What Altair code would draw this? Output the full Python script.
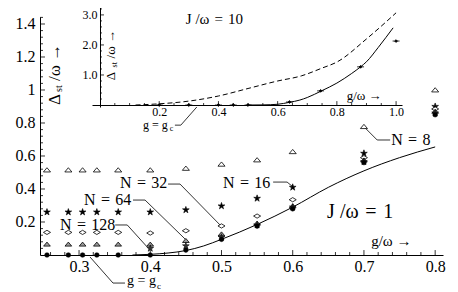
import altair as alt
import pandas as pd

FONT = "Liberation Serif"
SP = "\u2004"  # slightly wider space, as in the typeset labels

# ---------------- main panel (J/omega = 1) ----------------
G = [0.255, 0.285, 0.305, 0.325, 0.355, 0.40, 0.45, 0.50, 0.55, 0.60, 0.70, 0.80]
N8 = [0.515, 0.515, 0.515, 0.515, 0.515, 0.515, 0.525, 0.55, 0.576, 0.626, 0.778, 1.0]
N16 = [0.26, 0.26, 0.26, 0.26, 0.26, 0.26, 0.273, 0.297, 0.343, 0.41, 0.616, 0.90]
N32 = [0.137, 0.137, 0.137, 0.137, 0.137, 0.133, 0.147, 0.176, 0.236, 0.335, 0.59, 0.885]
N64 = [0.065, 0.065, 0.065, 0.065, 0.065, 0.065, 0.087, 0.127, 0.192, 0.297, 0.575, 0.87]
G128 = [0.40, 0.45, 0.50, 0.55, 0.60, 0.70, 0.80]
N128 = [0.04, 0.055, 0.107, 0.182, 0.29, 0.565, 0.86]
NLARGE = [0, 0, 0, 0, 0, 0, 0.03, 0.095, 0.175, 0.28, 0.56, 0.85]

CURVE_G = [0.375, 0.40, 0.425, 0.45, 0.475, 0.50, 0.55, 0.60, 0.65, 0.70, 0.75, 0.80]
CURVE_V = [0.0, 0.004, 0.012, 0.027, 0.055, 0.095, 0.185, 0.29, 0.41, 0.51, 0.59, 0.655]

MAIN_X_TICKS = [0.3, 0.4, 0.5, 0.6, 0.7, 0.8]
MAIN_Y_TICKS = [0.2, 0.4, 0.6, 0.8, 1.0, 1.2, 1.4]

# ---------------- inset (J/omega = 10) ----------------
IN_SOLID_G = [0.50, 0.55, 0.60, 0.64, 0.675, 0.70, 0.75, 0.80, 0.85, 0.88, 0.90, 0.94, 0.99]
IN_SOLID_V = [0.0, 0.004, 0.025, 0.09, 0.165, 0.25, 0.48, 0.73, 1.05, 1.27, 1.44, 1.92, 2.57]
IN_DASH_G = [0.12, 0.20, 0.30, 0.40, 0.50, 0.60, 0.68, 0.75, 0.80, 0.90, 1.0]
IN_DASH_V = [0.0, 0.04, 0.13, 0.30, 0.55, 0.80, 0.97, 1.23, 1.43, 2.2, 3.07]
IN_PTS_G = [0.20, 0.30, 0.40, 0.45, 0.50, 0.64, 0.745, 0.88, 1.0]
IN_PTS_V = [0.0, 0.0, 0.0, 0.0, 0.0, 0.10, 0.47, 1.27, 2.13]

IN_X_TICKS = [0.2, 0.4, 0.6, 0.8, 1.0]
IN_Y_TICKS = [1.0, 2.0, 3.0]

# ---------------- annotations ----------------
MAIN_TEXT = ["J /\u03c9" + SP + "=" + SP + "1", "g/\u03c9 \u2192",
             "N" + SP + "=" + SP + "8", "N" + SP + "=" + SP + "16", "N" + SP + "=" + SP + "32",
             "N" + SP + "=" + SP + "64", "N" + SP + "=" + SP + "128", "g = g", "c"]
MAIN_TEXT_X = [0.6483, 0.7101, 0.7382, 0.5022, 0.3576, 0.3070, 0.2733, 0.3674, 0.4095]
MAIN_TEXT_Y = [0.224, 0.0545, 0.667, 0.406, 0.406, 0.303, 0.152, -0.182, -0.206]
MAIN_TEXT_S = [20, 15, 16, 16, 16, 16, 16, 14, 9]

MAIN_YT_TEXT = ["\u0394", "st", "/\u03c9 \u2192"]
MAIN_YT_X = [0.2726, 0.2754, 0.2726]
MAIN_YT_Y = [0.909, 0.988, 1.055]
MAIN_YT_S = [17, 10, 17]

IN_TEXT = ["J /\u03c9" + SP + "=" + SP + "10", "g/\u03c9 \u2192", "g = g", "c"]
IN_TEXT_X = [0.29, 0.833, 0.145, 0.236]
IN_TEXT_Y = [2.70, 0.165, -0.79, -0.86]
IN_TEXT_S = [15, 13, 12, 8]

IN_YT_TEXT = ["\u0394", "st", "/\u03c9 \u2192"]
IN_YT_X = [0.0506, 0.0573, 0.0506]
IN_YT_Y = [0.824, 1.253, 1.55]
IN_YT_S = [13, 8, 13]

LEADER_ID = ["n8"] * 3 + ["n16"] * 3 + ["n32"] * 3 + ["n64"] * 3 + ["n128"] * 3 + ["gc"] * 3
LEADER_X = [0.7017, 0.7186, 0.7368, 0.5725, 0.5921, 0.6006, 0.4250, 0.4418, 0.4980,
            0.3758, 0.3927, 0.4517, 0.3508, 0.3677, 0.3958, 0.3154, 0.3477, 0.3645]
LEADER_Y = [0.770, 0.697, 0.697, 0.442, 0.442, 0.412, 0.430, 0.430, 0.182,
            0.333, 0.333, 0.085, 0.182, 0.182, 0.048, -0.012, -0.170, -0.170]
IN_LEADER_X = [0.253, 0.273, 0.327]
IN_LEADER_Y = [-0.67, -0.67, -0.066]

# ---------------- scales / axes ----------------
MX_SCALE = alt.Scale(domain=[0.2452, 0.811], nice=False, zero=False)
MY_SCALE = alt.Scale(domain=[0, 1.4424], nice=False, zero=False)
IX_SCALE = alt.Scale(domain=[-0.027, 1.02], range=[52, 362], nice=False, zero=False)
IY_SCALE = alt.Scale(domain=[-0.066, 3.43], range=[90, -15], nice=False, zero=False)

AX_COMMON = dict(grid=False, ticks=False, tickSize=0, labelFont=FONT, labelColor="black",
                 domainColor="black", domainWidth=1, title=None, labelFlush=False,
                 labelOverlap=False, labelBound=False)

MX_AXIS = alt.Axis(orient="bottom", values=MAIN_X_TICKS, format=".1f", labelFontSize=16,
                   labelPadding=3, **AX_COMMON)
MY_AXIS = alt.Axis(orient="left", values=MAIN_Y_TICKS, labelFontSize=16, labelPadding=5,
                   labelExpr="datum.value == 1 ? '1' : format(datum.value, '.1f')", **AX_COMMON)
IX_AXIS = alt.Axis(orient="bottom", offset=-150, values=IN_X_TICKS, format=".1f",
                   labelFontSize=12, labelPadding=1, **AX_COMMON)
IY_AXIS = alt.Axis(orient="left", offset=-60, values=IN_Y_TICKS, format=".1f",
                   labelFontSize=12, labelPadding=3, **AX_COMMON)


def MX(f="x"):
    return alt.X(f"{f}:Q", scale=MX_SCALE, axis=MX_AXIS)


def MY(f="y"):
    return alt.Y(f"{f}:Q", scale=MY_SCALE, axis=MY_AXIS)


def IX(f="x"):
    return alt.X(f"{f}:Q", scale=IX_SCALE, axis=IX_AXIS)


def IY(f="y"):
    return alt.Y(f"{f}:Q", scale=IY_SCALE, axis=IY_AXIS)


TRI = "M-1,0.55L1,0.55L0,-0.65Z"
DIA = "M-1,0L0,-0.6L1,0L0,0.6Z"
STAR = ("M0,-1L0.2245,-0.309L0.951,-0.309L0.363,0.118L0.588,0.809L0,0.382"
        "L-0.588,0.809L-0.363,0.118L-0.951,-0.309L-0.2245,-0.309Z")
BARDOT = "M-1,0L1,0M-0.4,0L0,-0.4L0.4,0L0,0.4Z"


def points(xs, ys, shape, fill, size, sw, enc_x, enc_y):
    df = pd.DataFrame({"x": xs, "y": ys})
    return alt.Chart(df).mark_point(shape=shape, filled=True, fill=fill, stroke="black",
                                    strokeWidth=sw, size=size, opacity=1).encode(x=enc_x(), y=enc_y())


def texts(ts, xs, ys, ss, angle, enc_x, enc_y):
    df = pd.DataFrame({"t": ts, "x": xs, "y": ys, "s": ss})
    return alt.Chart(df).mark_text(font=FONT, align="left", baseline="alphabetic",
                                   color="black", angle=angle).encode(
        x=enc_x(), y=enc_y(), text="t:N", size=alt.Size("s:Q", scale=None, legend=None))


def tick_rules(rows, enc_x, enc_y):
    df = pd.DataFrame(rows, columns=["x", "x2", "y", "y2"])
    return alt.Chart(df).mark_rule(color="black", strokeWidth=0.8).encode(
        x=enc_x(), x2="x2:Q", y=enc_y(), y2="y2:Q")


# tick marks pointing inward (Mathematica style)
main_x_minor = [round(0.26 + 0.02 * i, 2) for i in range(28)]
main_x_rows = [(t, t, 0, 0.03 if t in MAIN_X_TICKS else 0.018) for t in main_x_minor]
main_y_vals = [round(0.04 * i, 2) for i in range(1, 37)]
main_y_rows = [(0.2452, 0.2452 + (0.007 if i % 5 == 0 else 0.0042), v, v)
               for i, v in zip(range(1, 37), main_y_vals)]
in_x_vals = [round(0.05 * i, 2) for i in range(1, 21)]
in_x_rows = [(t, t, 0, 0.13 if i % 4 == 0 else 0.066) for i, t in zip(range(1, 21), in_x_vals)]
in_y_vals = [round(0.2 * i, 1) for i in range(1, 17)]
in_y_rows = [(0, 0.0135 if i % 5 == 0 else 0.0067, v, v) for i, v in zip(range(1, 17), in_y_vals)]

# ---------------- main layers ----------------
main_curve = alt.Chart(pd.DataFrame({"x": CURVE_G, "y": CURVE_V})).mark_line(
    color="black", strokeWidth=1, interpolate="monotone").encode(x=MX(), y=MY())

leaders = alt.Chart(pd.DataFrame({"x": LEADER_X, "y": LEADER_Y, "id": LEADER_ID,
                                  "o": list(range(len(LEADER_X)))})).mark_line(
    color="black", strokeWidth=0.8).encode(x=MX(), y=MY(), detail="id:N", order="o:Q")

main = alt.layer(
    tick_rules(main_x_rows, MX, MY),
    tick_rules(main_y_rows, MX, MY),
    main_curve,
    leaders,
    points(G, N8, TRI, "white", 50, 0.8, MX, MY),
    points(G, N16, STAR, "black", 50, 0.6, MX, MY),
    points(G, N32, DIA, "white", 50, 0.8, MX, MY),
    points(G, N64, TRI, "#9a9a9a", 45, 0.8, MX, MY),
    points(G128, N128, STAR, "#333333", 50, 0.6, MX, MY),
    points(G, NLARGE, "circle", "black", 22, 0.5, MX, MY),
    texts(MAIN_TEXT, MAIN_TEXT_X, MAIN_TEXT_Y, MAIN_TEXT_S, 0, MX, MY),
    texts(MAIN_YT_TEXT, MAIN_YT_X, MAIN_YT_Y, MAIN_YT_S, 270, MX, MY),
)

# ---------------- inset layers ----------------
in_solid = alt.Chart(pd.DataFrame({"x": IN_SOLID_G, "y": IN_SOLID_V})).mark_line(
    color="black", strokeWidth=1, interpolate="monotone").encode(x=IX(), y=IY())
in_dash = alt.Chart(pd.DataFrame({"x": IN_DASH_G, "y": IN_DASH_V})).mark_line(
    color="black", strokeWidth=1, strokeDash=[5, 3], interpolate="monotone").encode(x=IX(), y=IY())
in_leader = alt.Chart(pd.DataFrame({"x": IN_LEADER_X, "y": IN_LEADER_Y, "o": [0, 1, 2]})).mark_line(
    color="black", strokeWidth=0.8).encode(x=IX(), y=IY(), order="o:Q")

inset = alt.layer(
    tick_rules(in_x_rows, IX, IY),
    tick_rules(in_y_rows, IX, IY),
    in_dash,
    in_solid,
    in_leader,
    points(IN_PTS_G, IN_PTS_V, BARDOT, "black", 49, 0.8, IX, IY),
    texts(IN_TEXT, IN_TEXT_X, IN_TEXT_Y, IN_TEXT_S, 0, IX, IY),
    texts(IN_YT_TEXT, IN_YT_X, IN_YT_Y, IN_YT_S, 270, IX, IY),
)

chart = alt.layer(main, inset).resolve_scale(x="independent", y="independent").properties(
    width=403, height=238,
    autosize=alt.AutoSizeParams(type="none"),
    padding={"left": 32, "top": 9, "right": 7, "bottom": 36},
    background="white",
).configure_view(strokeWidth=0)

chart.save("out.html", embed_options={"renderer": "svg", "actions": False})
